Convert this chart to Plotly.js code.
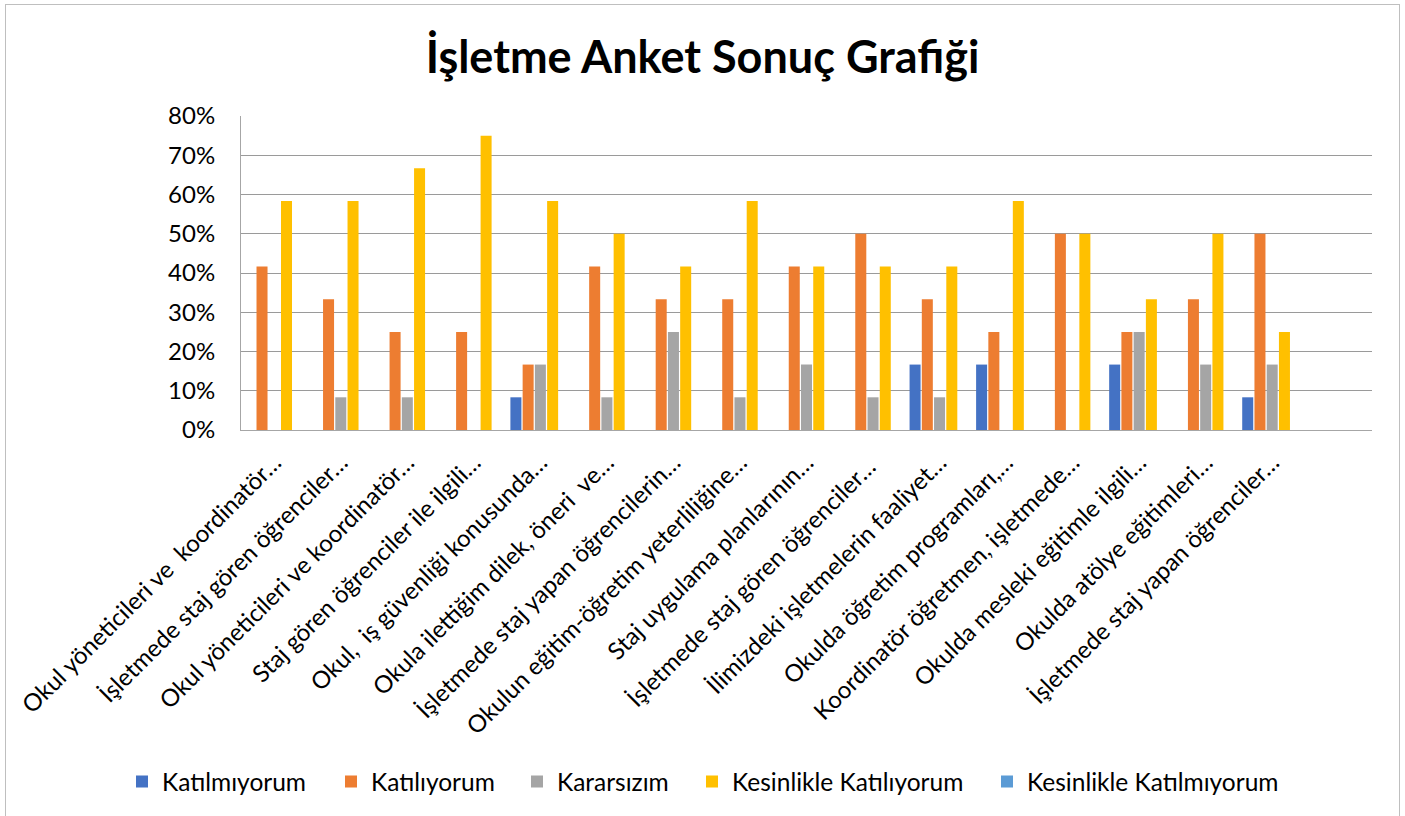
<!DOCTYPE html>
<html>
<head>
<meta charset="utf-8">
<script src="https://cdn.plot.ly/plotly-3.0.1.min.js"></script>
<style>
  html, body { margin: 0; padding: 0; background: #fff; }
  #wrap { position: relative; width: 1405px; height: 816px; }
  #chart { position: absolute; left: 0; top: 0; width: 1405px; height: 816px; }
  #frame { position: absolute; left: 5px; top: 4px; width: 1393px; height: 830px; border: 1px solid #bfbfbf; pointer-events: none; }
</style>
</head>
<body>
<div id="wrap"><div id="chart"></div><div id="frame"></div></div>
<script>
const categories = [
  "Okul yöneticileri ve  koordinatör…",
  "İşletmede staj gören öğrenciler…",
  "Okul yöneticileri ve koordinatör…",
  "Staj gören öğrenciler ile ilgili…",
  "Okul,  iş güvenliği konusunda…",
  "Okula ilettiğim dilek, öneri  ve…",
  "İşletmede staj yapan öğrencilerin…",
  "Okulun eğitim-öğretim yeterliliğine…",
  "Staj uygulama planlarının…",
  "İşletmede staj gören öğrenciler… ",
  "İlimizdeki işletmelerin faaliyet…",
  "Okulda öğretim programları,…",
  "Koordinatör öğretmen, işletmede…",
  "Okulda mesleki eğitimle ilgili…",
  "Okulda atölye eğitimleri…",
  "İşletmede staj yapan öğrenciler…",
  " "
];

const seriesNames = ["Katılmıyorum", "Katılıyorum", "Kararsızım", "Kesinlikle Katılıyorum", "Kesinlikle Katılmıyorum"];

const katilmiyorum = [0, 0, 0, 0, 0.0833, 0, 0, 0, 0, 0, 0.1667, 0.1667, 0, 0.1667, 0, 0.0833, null];
const katiliyorum  = [0.4167, 0.3333, 0.25, 0.25, 0.1667, 0.4167, 0.3333, 0.3333, 0.4167, 0.50, 0.3333, 0.25, 0.50, 0.25, 0.3333, 0.50, null];
const kararsizim   = [0, 0.0833, 0.0833, 0, 0.1667, 0.0833, 0.25, 0.0833, 0.1667, 0.0833, 0.0833, 0, 0, 0.25, 0.1667, 0.1667, null];
const kesinlikleKatiliyorum  = [0.5833, 0.5833, 0.6667, 0.75, 0.5833, 0.50, 0.4167, 0.5833, 0.4167, 0.4167, 0.4167, 0.5833, 0.50, 0.3333, 0.50, 0.25, null];
const kesinlikleKatilmiyorum = [0, 0, 0, 0, 0, 0, 0, 0, 0, 0, 0, 0, 0, 0, 0, 0, null];

const yTickVals = [0, 0.1, 0.2, 0.3, 0.4, 0.5, 0.6, 0.7, 0.8];
const yTickText = ["0%", "10%", "20%", "30%", "40%", "50%", "60%", "70%", "80%"];

const colors = ["#4472C4", "#ED7D31", "#A5A5A5", "#FFC000", "#5B9BD5"];
const allSeries = [katilmiyorum, katiliyorum, kararsizim, kesinlikleKatiliyorum, kesinlikleKatilmiyorum];

const FONT = "Lato, 'Open Sans', sans-serif";

// plot area geometry (pixels) used to place the separate legend entries
const PL = 241, PW = 1131, PT = 116, PH = 317;
const legendLeftPx = [122, 331, 517, 692, 987];
const legendNames = ["legend", "legend2", "legend3", "legend4", "legend5"];

const traces = allSeries.map((vals, i) => ({
  type: "bar",
  name: seriesNames[i],
  x: categories,
  y: vals,
  legend: legendNames[i],
  marker: { color: colors[i], line: { width: 0 } },
  hoverinfo: "skip"
}));

const layout = {
  width: 1405,
  height: 816,
  paper_bgcolor: "rgba(0,0,0,0)",
  plot_bgcolor: "#ffffff",
  margin: { l: PL, r: 1405 - PL - PW, t: PT, b: 816 - PT - PH, pad: 0 },
  barmode: "group",
  bargap: 0.08,
  bargroupgap: 0.1,
  title: {
    text: "<b>İşletme Anket Sonuç Grafiği</b>",
    font: { family: FONT, size: 45, color: "#000000" },
    x: 0.5, xref: "container", xanchor: "center",
    y: 0.93, yref: "container", yanchor: "middle"
  },
  xaxis: {
    type: "category",
    tickangle: -45,
    tickfont: { family: FONT, size: 24, color: "#000000" },
    ticklabelstandoff: 8,
    showgrid: false,
    showline: true,
    linecolor: "#a6a6a6",
    linewidth: 1,
    ticks: "",
    automargin: false
  },
  yaxis: {
    range: [0, 0.8],
    tickvals: yTickVals,
    ticktext: yTickText,
    tickfont: { family: FONT, size: 24, color: "#000000" },
    ticklabelstandoff: 20,
    showgrid: true,
    gridcolor: "#9a9a9a",
    gridwidth: 1,
    showline: true,
    linecolor: "#a6a6a6",
    linewidth: 1,
    zeroline: false,
    ticks: "",
    ticklen: 0,
    automargin: false
  },
  showlegend: true
};

legendNames.forEach((ln, i) => {
  layout[ln] = {
    orientation: "h",
    x: (legendLeftPx[i] - PL) / PW, xanchor: "left",
    y: (PT + PH - 788) / PH, yanchor: "middle",
    font: { family: FONT, size: 24.5, color: "#000000" },
    bgcolor: "rgba(0,0,0,0)",
    borderwidth: 0
  };
});

Plotly.newPlot("chart", traces, layout, { displayModeBar: false, staticPlot: true });
</script>
</body>
</html>
